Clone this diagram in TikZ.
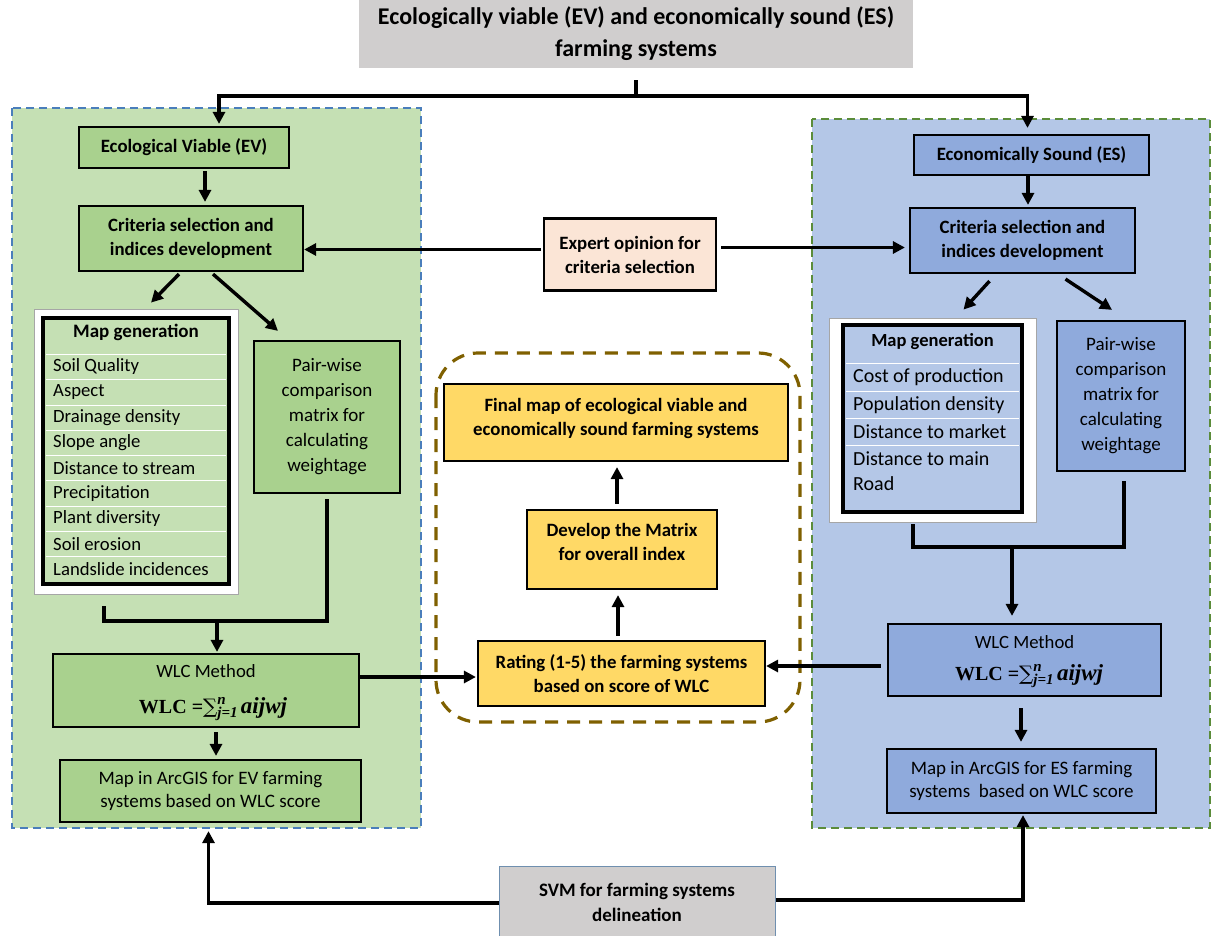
\documentclass[tikz,border=0pt]{standalone}
\usepackage{fontspec}
\setmainfont{Carlito}
\newfontfamily\formulafont{Liberation Serif}
\newfontfamily\sumfont{DejaVu Serif}
\usetikzlibrary{arrows.meta,calc}

\definecolor{evpanel}{HTML}{C5E0B4}
\definecolor{evbox}{HTML}{A9D18E}
\definecolor{espanel}{HTML}{B4C7E7}
\definecolor{esbox}{HTML}{8FAADC}
\definecolor{goldbox}{HTML}{FFD966}
\definecolor{peachbox}{HTML}{FBE5D6}
\definecolor{greybox}{HTML}{D0CECE}
\definecolor{evdash}{HTML}{4A7EBB}
\definecolor{esdash}{HTML}{5B8C3A}
\definecolor{olivedash}{HTML}{7F6000}
\definecolor{svmedge}{HTML}{6F8FAF}

% weighted linear combination formula, set as text
\newcommand{\wlcformula}{%
  {\formulafont\bfseries WLC =}%
  {\sumfont ∑}%
  {\formulafont\bfseries\itshape\fontsize{15}{15}\selectfont
   \makebox[0pt][l]{\raisebox{9pt}{n}}\raisebox{-4pt}{j=1}}%
  \,{\formulafont\bfseries\itshape\fontsize{23}{24}\selectfont aijwj}}

\tikzset{
  stagebox/.style={draw=black, line width=2.2pt, inner sep=0pt, align=center},
  boldtxt/.style={font=\bfseries\fontsize{18.8}{24}\selectfont},
  plaintxt/.style={font=\fontsize{19}{25}\selectfont},
  listitem/.style={inner sep=0pt, anchor=west},
  conn/.style={line width=3.4pt},
  arr/.style={line width=3.4pt, -{Triangle[length=12pt,width=12pt]}},
  panelline/.style={line width=2pt, dash pattern=on 8pt off 5pt},
  sepline/.style={white, line width=0.8pt},
}

\begin{document}
\begin{tikzpicture}[x=1pt,y=-1pt]
\useasboundingbox (0,0) rectangle (1221,936);

% background panels of the two branches
\fill[evpanel] (12,108) rectangle (421,828);
\draw[evdash, panelline] (12,108) rectangle (421,828);
\fill[espanel] (812,119) rectangle (1210,828);
\draw[esdash, panelline] (812,119) rectangle (1210,828);

% integration zone
\draw[olivedash, line width=3.2pt, dash pattern=on 13pt off 9pt, rounded corners=42pt]
  (436,353) rectangle (800,722);

% heading
\node[fill=greybox, minimum width=554, minimum height=68, inner sep=0pt, align=center,
      font=\bfseries\fontsize{24}{32}\selectfont] (title) at (636,34)
  {Ecologically viable (EV) and economically sound (ES)\\farming systems};

% ---------------- ecological branch ----------------
\node[stagebox, boldtxt, fill=evbox, minimum width=210, minimum height=41] (ev) at (184,147.5)
  {Ecological Viable (EV)};
\node[stagebox, boldtxt, fill=evbox, minimum width=224, minimum height=65] (critL) at (191,238.5)
  {Criteria selection and\\indices development};

\node[draw=gray!70, line width=0.8pt, fill=white, minimum width=204, minimum height=285, inner sep=0pt] (mapLo) at (136,451.5) {};
\node[draw=black, line width=4pt, fill=evpanel, minimum width=186, minimum height=266, inner sep=0pt] (mapLi) at (136,451) {};
\node[inner sep=0pt, font=\bfseries\fontsize{19}{22}\selectfont] (mapLt) at (136,332) {Map generation};
\foreach \y in {354.5,379.6,404.9,430.1,455.4,480.6,505.9,531.1,556.4}
  \draw[sepline] (46,\y) -- (226,\y);
\foreach \t [count=\i from 0] in {Soil Quality,Aspect,Drainage density,Slope angle,Distance to stream,Precipitation,Plant diversity,Soil erosion,Landslide incidences}
  \node[listitem, font=\fontsize{18.7}{22}\selectfont] (mapLitem\i) at (53,367+25.25*\i) {\t};

\node[stagebox, plaintxt, fill=evbox, minimum width=146, minimum height=152] (pairL) at (327,417)
  {Pair-wise\\comparison\\matrix for\\calculating\\weightage};

\node[stagebox, fill=evbox, minimum width=306, minimum height=73] (wlcL) at (206,690.5) {};
\node[inner sep=0pt, font=\fontsize{18.7}{22}\selectfont] (wlcLt) at (206,671) {WLC Method};
\node[inner sep=0pt, font=\fontsize{20}{24}\selectfont] (wlcLf) at (213,709) {\wlcformula};

\node[stagebox, fill=evbox, minimum width=301, minimum height=62, font=\fontsize{19}{23}\selectfont] (arcL) at (210.5,791)
  {Map in ArcGIS for EV farming\\systems based on WLC score};

% ---------------- economic branch ----------------
\node[stagebox, boldtxt, fill=esbox, minimum width=235, minimum height=40] (es) at (1031.5,155)
  {Economically Sound (ES)};
\node[stagebox, boldtxt, fill=esbox, minimum width=225, minimum height=65] (critR) at (1022.5,240.5)
  {Criteria selection and\\indices development};

\node[draw=gray!70, line width=0.8pt, fill=white, minimum width=207, minimum height=204, inner sep=0pt] (mapRo) at (932.5,420) {};
\node[draw=black, line width=4pt, fill=espanel, minimum width=179, minimum height=187, inner sep=0pt] (mapRi) at (932.5,418.5) {};
\node[inner sep=0pt, font=\bfseries\fontsize{18.5}{22}\selectfont] (mapRt) at (932.5,342) {Map generation};
\foreach \y in {363,391,418,445}
  \draw[sepline] (846,\y) -- (1019,\y);
\node[listitem, font=\fontsize{20}{22}\selectfont] (mapRitem0) at (853,377) {Cost of production};
\node[listitem, font=\fontsize{20}{22}\selectfont] (mapRitem1) at (853,405) {Population density};
\node[listitem, font=\fontsize{20}{22}\selectfont] (mapRitem2) at (853,432) {Distance to market};
\node[listitem, font=\fontsize{20}{22}\selectfont] (mapRitem3) at (853,459) {Distance to main};
\node[listitem, font=\fontsize{20}{22}\selectfont] (mapRitem4) at (853,484) {Road};

\node[stagebox, plaintxt, fill=esbox, minimum width=128, minimum height=150] (pairR) at (1121,396)
  {Pair-wise\\comparison\\matrix for\\calculating\\weightage};

\node[stagebox, fill=esbox, minimum width=273, minimum height=72] (wlcR) at (1024.5,660) {};
\node[inner sep=0pt, font=\fontsize{18.7}{22}\selectfont] (wlcRt) at (1024.5,642) {WLC Method};
\node[inner sep=0pt, font=\fontsize{20}{24}\selectfont] (wlcRf) at (1029,676) {\wlcformula};

\node[stagebox, fill=esbox, minimum width=269, minimum height=64, font=\fontsize{19}{23}\selectfont] (arcR) at (1021.5,781)
  {Map in ArcGIS for ES farming\\systems\ \ based on WLC score};

% ---------------- shared stages ----------------
\node[stagebox, boldtxt, fill=peachbox, minimum width=172, minimum height=72] (expert) at (630,254.5)
  {Expert opinion for\\criteria selection};

\node[stagebox, boldtxt, fill=goldbox, minimum width=344, minimum height=77] (final) at (616,422.5)
  {Final map of ecological viable and\\economically sound farming systems\\[-12pt]};
\node[stagebox, boldtxt, fill=goldbox, minimum width=190, minimum height=79] (develop) at (622,549.5)
  {Develop the Matrix\\for overall index\\[-8pt]};
\node[stagebox, boldtxt, fill=goldbox, minimum width=287, minimum height=65] (rating) at (621.5,673.5)
  {Rating (1-5) the farming systems\\based on score of WLC};

\node[draw=svmedge, line width=1pt, fill=greybox, minimum width=276, minimum height=72, inner sep=0pt, align=center,
      font=\bfseries\fontsize{19}{25}\selectfont] (svm) at (637,902)
  {SVM for farming systems\\delineation};

% ---------------- connectors ----------------
\coordinate (tsplit) at (636,96);
\draw[conn] ([yshift=-12pt]title.south) -- (tsplit);
\draw[arr] (tsplit) -| ($(ev.north)+(35,-2)$);
\draw[arr] (tsplit) -| ($(es.north)+(-4,-6)$);

\draw[arr] ($(ev.south)+(21,2)$) -- ($(critL.north)+(14,-3)$);
\draw[arr] ($(critL.south)+(-12,2)$) -- ($(mapLo.north)+(15,-6)$);
\draw[arr] ($(critL.south)+(22,2)$) -- ($(pairL.north)+(-49,-9)$);

\draw[arr] ($(expert.west)+(-2,-5)$) -- ($(critL.east)+(0,11)$);
\draw[arr] ($(expert.east)+(4,-7)$) -- ($(critR.west)+(-4,7)$);

\draw[conn] ($(mapLo.south)+(-32,12)$) |- ($(pairL.south)+(0,127)$) -- ($(pairL.south)+(0,5)$);
\coordinate (mergeL) at (217,620);
\draw[arr] (mergeL) -- ($(mergeL |- wlcL.north)+(0,-1)$);
\draw[arr] ($(wlcL.south)+(10,4)$) -- ($(arcL.north)+(5.5,-3)$);
\draw[arr] ($(wlcL.east)+(-2,-13.5)$) -- ($(rating.west)+(-1,3.5)$);

\draw[arr] ($(rating.north)+(-3.5,-4)$) -- ($(develop.south)+(-4,5)$);
\draw[arr] ($(develop.north)+(-5,-5)$) -- ($(final.south)+(1,5)$);
\draw[arr] ($(wlcR.west)+(-6,6)$) -- ($(rating.east)+(0,-7.5)$);

\draw[arr] (es.south -| 1028,0) -- ($(critR.north)+(5.5,-2)$);
\draw[arr] ($(critR.south)+(-33,7)$) -- ($(mapRo.north)+(31,-8)$);
\draw[arr] ($(critR.south)+(43,5)$) -- ($(pairR.north)+(-9,-10)$);

\draw[conn] ($(mapRo.south)+(-19.5,2)$) |- ($(pairR.south)+(3,75)$) -- ($(pairR.south)+(3,9)$);
\coordinate (mergeR) at (1012,546);
\draw[arr] (mergeR) -- ($(mergeR |- wlcR.north)+(0,-7)$);
\draw[arr] ($(wlcR.south)+(-3.5,11)$) -- ($(arcR.north)+(-0.5,-6)$);

\draw[arr] ($(svm.west)+(0,1)$) -| ($(arcL.south)+(-2,8)$);
\draw[arr] ($(svm.east)+(0,-2)$) -| ($(arcR.south)+(1.5,1)$);
\end{tikzpicture}
\end{document}
